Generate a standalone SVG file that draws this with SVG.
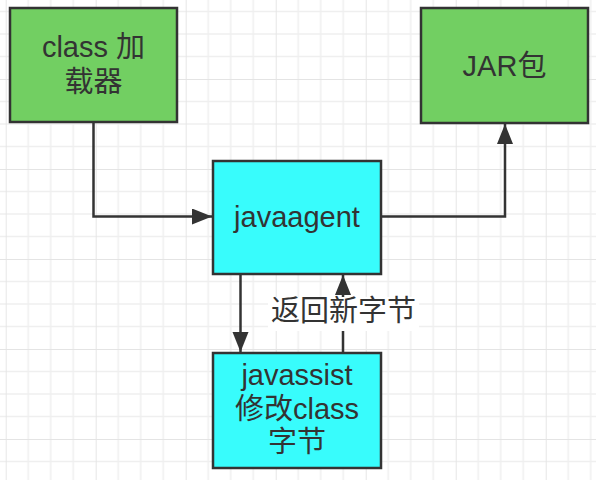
<svg xmlns="http://www.w3.org/2000/svg" width="596" height="480" viewBox="0 0 596 480">
  <defs>
    <pattern id="grid" patternUnits="userSpaceOnUse" x="5.7" y="79" width="90" height="90">
      <path d="M22.5,0V90M45,0V90M67.5,0V90M0,22.5H90M0,45H90M0,67.5H90" stroke="#efefef" stroke-width="1.5" fill="none"/>
      <path d="M0,0V90M0,0H90" stroke="#e4e4e4" stroke-width="1.8" fill="none"/>
    </pattern>
    <marker id="arrow" markerUnits="userSpaceOnUse" markerWidth="22" markerHeight="18" refX="20" refY="8" orient="auto">
      <path d="M0,0 L20,8 L0,16 Z" fill="#333333"/>
    </marker>
    <style>
      .box { stroke: #333333; stroke-width: 2.5; }
      .green { fill: #72CF62; }
      .cyan { fill: #38FCFC; }
      .label { font-family: "Liberation Sans", "Noto Sans CJK SC", sans-serif; font-size: 29px; fill: #333333; text-anchor: middle; dominant-baseline: central; }
      .edge { fill: none; stroke: #333333; stroke-width: 2.5; }
    </style>
  </defs>
  <rect width="596" height="480" fill="#ffffff"/>
  <rect width="596" height="480" fill="url(#grid)"/>

  <g id="connectors">
    <path class="edge" d="M93.5,122 V216.5 H212" marker-end="url(#arrow)"/>
    <path class="edge" d="M381,216.5 H505 V124" marker-end="url(#arrow)"/>
    <path class="edge" d="M240.5,274 V352" marker-end="url(#arrow)"/>
    <path class="edge" d="M343,353 V275" marker-end="url(#arrow)"/>
    <rect x="268" y="297" width="151" height="34" fill="#ffffff"/>
    <text class="label" x="343.5" y="311">返回新字节</text>
  </g>

  <g id="classloader">
    <rect class="box green" x="10" y="8" width="167" height="114"/>
    <text class="label" x="93.5" y="47">class 加</text>
    <text class="label" x="93.5" y="82">载器</text>
  </g>

  <g id="jar">
    <rect class="box green" x="421" y="8" width="167" height="115"/>
    <text class="label" x="504.5" y="66">JAR包</text>
  </g>

  <g id="javaagent">
    <rect class="box cyan" x="213" y="161" width="168" height="113"/>
    <text class="label" x="297" y="216.5">javaagent</text>
  </g>

  <g id="javassist">
    <rect class="box cyan" x="213" y="353" width="168" height="115"/>
    <text class="label" x="297" y="375">javassist</text>
    <text class="label" x="297" y="408.5">修改class</text>
    <text class="label" x="297" y="442">字节</text>
  </g>
</svg>
